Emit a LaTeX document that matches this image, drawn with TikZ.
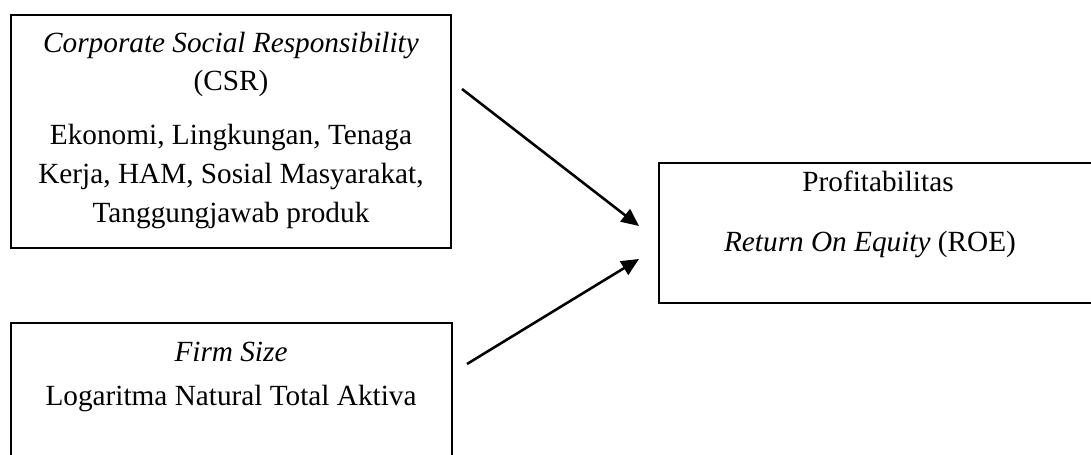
\documentclass[tikz,border=0pt]{standalone}
\usepackage{fontspec}
\setmainfont{Liberation Serif}
\usetikzlibrary{arrows.meta}
\begin{document}
\begin{tikzpicture}[x=0.41pt,y=-0.41pt,
  box/.style={draw=black, line width=0.5pt, rectangle, inner sep=0pt},
  txt/.style={align=center, inner sep=0pt, font=\fontsize{12}{16}\selectfont},
  arr/.style={line width=1.05pt, -{Triangle[length=7.2pt,width=6.4pt]}}]
\clip (0,0) rectangle (1091,455);
\fill[white] (0,0) rectangle (1091,455);
% boxes
\node[box, minimum width=180.4pt, minimum height=95.5pt] (b1) at (231,131.5) {};
\node[box, minimum width=180.8pt, minimum height=64.4pt] (b2) at (231.5,401.5) {};
\node[box, minimum width=184.9pt, minimum height=57.4pt] (b3) at (884.5,233) {};
% texts
\node[txt] (t1) at (231,131) {\textit{Corporate Social Responsibility}\\[-0.8pt](CSR)\\[6.5pt]Ekonomi, Lingkungan, Tenaga\\Kerja, HAM, Sosial Masyarakat,\\Tanggungjawab produk};
\node[txt] (t2a) at (231,352) {\textit{Firm Size}};
\node[txt] (t2b) at (231,399) {Logaritma Natural Total Aktiva};
\node[txt] (t3a) at (878,181) {Profitabilitas};
\node[txt] (t3b) at (870,245) {\textit{Return On Equity} (ROE)};
% arrows
\coordinate (s1) at (462,89);
\coordinate (e1) at (639,226);
\coordinate (s2) at (467,364);
\coordinate (e2) at (639,259);
\draw[arr] (s1) -- (e1);
\draw[arr] (s2) -- (e2);
\end{tikzpicture}
\end{document}
